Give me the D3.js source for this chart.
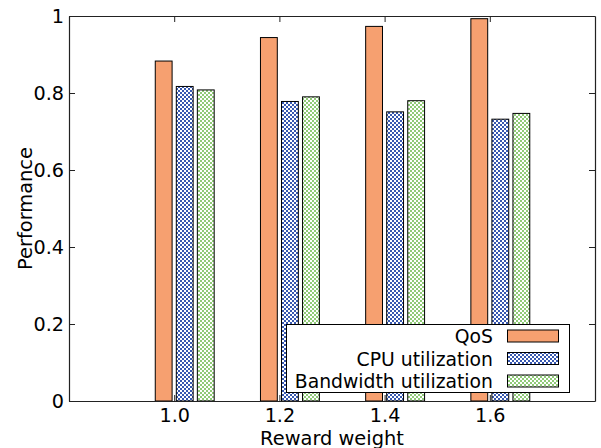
<!DOCTYPE html>
<html><head><meta charset="utf-8">
<script src="https://cdn.jsdelivr.net/npm/d3@7"></script>
<style>
html,body{margin:0;padding:0;background:#fff;}
svg{display:block;}
text{font-family:"DejaVu Sans",sans-serif;fill:#000;}
</style></head>
<body>
<script>
const categories = [1.0, 1.2, 1.4, 1.6];
const qos = [0.883, 0.944, 0.973, 0.993];
const cpu = [0.817, 0.778, 0.751, 0.732];
const bw  = [0.808, 0.790, 0.780, 0.747];
const seriesNames = ["QoS", "CPU utilization", "Bandwidth utilization"];
const yTicks = [0, 0.2, 0.4, 0.6, 0.8, 1];

const W = 601, H = 448;
const m = {left: 69, right: 595, top: 16, bottom: 401};
const fs = 19.4;
const fsTick = 19.2;
const fsLegend = 18.8;

const svg = d3.select("body").append("svg").attr("width", W).attr("height", H);
const defs = svg.append("defs");
function checker(id, color){
  const p = defs.append("pattern").attr("id", id).attr("patternUnits","userSpaceOnUse")
    .attr("width",4).attr("height",4);
  p.append("rect").attr("width",4).attr("height",4).attr("fill","#fff");
  p.append("rect").attr("x",0).attr("y",0).attr("width",2).attr("height",2).attr("fill",color);
  p.append("rect").attr("x",2).attr("y",2).attr("width",2).attr("height",2).attr("fill",color);
}
checker("pBlue", "#3858b0");
checker("pGreen", "#90ca78");
const fills = ["#f6a070", "url(#pBlue)", "url(#pGreen)"];

const x = d3.scaleLinear().domain([0.8, 1.8]).range([m.left, m.right]);
const y = d3.scaleLinear().domain([0, 1]).range([m.bottom, m.top]);

const offsets = [-0.036, 0.004, 0.044];
const barW = 0.032;
const series = [qos, cpu, bw];

series.forEach((vals, si) => {
  svg.append("g").selectAll("rect").data(vals).join("rect")
    .attr("x", (d,i) => x(categories[i] + offsets[si]))
    .attr("y", d => y(d))
    .attr("width", x(0.8 + barW) - x(0.8))
    .attr("height", d => y(0) - y(d))
    .attr("fill", fills[si])
    .attr("stroke", "#000").attr("stroke-width", 1);
});

const fmt = d => (d === 0 ? "0" : d === 1 ? "1" : d.toFixed(1));

const gB = svg.append("g").attr("transform", `translate(0,${m.bottom})`)
  .call(d3.axisBottom(x).tickValues(categories).tickFormat(d => d.toFixed(1)).tickSizeInner(-6).tickSizeOuter(0).tickPadding(7));
const gT = svg.append("g").attr("transform", `translate(0,${m.top})`)
  .call(d3.axisTop(x).tickValues(categories).tickFormat("").tickSizeInner(-6).tickSizeOuter(0));
const gL = svg.append("g").attr("transform", `translate(${m.left},0)`)
  .call(d3.axisLeft(y).tickValues(yTicks).tickFormat(fmt).tickSizeInner(-6).tickSizeOuter(0).tickPadding(5));
const gR = svg.append("g").attr("transform", `translate(${m.right},0)`)
  .call(d3.axisRight(y).tickValues(yTicks).tickFormat("").tickSizeInner(-6).tickSizeOuter(0));
[gB,gT,gL,gR].forEach(g => {
  g.selectAll(".domain").attr("stroke","#222").attr("stroke-width",1.2);
  g.selectAll(".tick line").attr("stroke","#222").attr("stroke-width",1);
  g.selectAll("text").attr("font-family","DejaVu Sans").attr("font-size",fsTick).attr("fill","#000");
});

svg.append("text").attr("x", (m.left+m.right)/2).attr("y", 444.5)
  .attr("text-anchor","middle").attr("font-size",fs).text("Reward weight");
svg.append("text").attr("transform", `translate(31.5,${(m.top+m.bottom)/2}) rotate(-90)`)
  .attr("text-anchor","middle").attr("font-size",fs).text("Performance");

const lg = svg.append("g");
lg.append("rect").attr("x",286.5).attr("y",324.5).attr("width",283).attr("height",68)
  .attr("fill","#fff").attr("stroke","#000").attr("stroke-width",1);
const rowY = [336, 358.5, 381];
seriesNames.forEach((name, i) => {
  lg.append("text").attr("x",493).attr("y",rowY[i]+7).attr("text-anchor","end")
    .attr("font-size",fsLegend).text(name);
  lg.append("rect").attr("x",507.5).attr("y",rowY[i]-6).attr("width",51).attr("height",12)
    .attr("fill",fills[i]).attr("stroke","#000").attr("stroke-width",1);
});
</script>
</body></html>
